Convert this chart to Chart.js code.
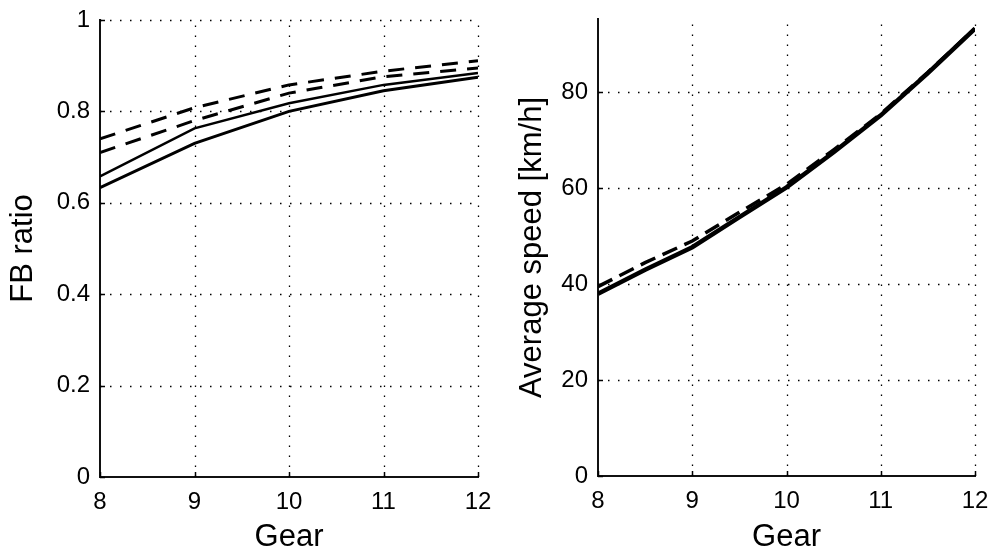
<!DOCTYPE html>
<html>
<head>
<meta charset="utf-8">
<script src="https://cdn.jsdelivr.net/npm/chart.js@4"></script>
<style>
  html, body { margin: 0; padding: 0; background: #fff; }
  body { width: 992px; height: 554px; position: relative; overflow: hidden; }
  .box { position: absolute; top: 0; width: 496px; height: 554px; }
  #b1 { left: 0; }
  #b2 { left: 496px; }
</style>
</head>
<body>
<div class="box" id="b1"><canvas id="c1"></canvas></div>
<div class="box" id="b2"><canvas id="c2"></canvas></div>
<script>
// ---- data ----
const gears = [8, 9, 10, 11, 12];
const fbDashedA = [0.740, 0.808, 0.858, 0.888, 0.911];
const fbDashedB = [0.710, 0.780, 0.840, 0.876, 0.895];
const fbSolidA  = [0.658, 0.763, 0.818, 0.858, 0.884];
const fbSolidB  = [0.633, 0.730, 0.800, 0.845, 0.875];

const speedGears  = [8, 8.5, 9, 9.5, 10, 10.5, 11, 11.5, 12];
const speedSolid  = [38.0, 43.0, 47.7, 54.0, 60.2, 67.5, 75.2, 84.0, 93.3];
const speedDashed = [39.5, 44.5, 49.0, 55.0, 60.8, 68.0, 75.5, 84.2, 93.3];

const xTicks = [8, 9, 10, 11, 12];
const fbTicks = [0, 0.2, 0.4, 0.6, 0.8, 1];
const speedTicks = [0, 20, 40, 60, 80];

const FONT = "'Liberation Sans', Arial, sans-serif";
const TICK_SIZE = 24;
const TITLE_SIZE = 31;

function pts(xs, ys) { return xs.map((x, i) => ({x: x, y: ys[i]})); }

function makeScales(yMin, yMax, yTickList, yTitle, yWidth, yTitlePad, xHeight) {
  return {
    x: {
      type: 'linear', min: 8, max: 12,
      afterBuildTicks: s => { s.ticks = xTicks.map(v => ({value: v})); },
      afterFit: s => { s.height = xHeight; s.paddingLeft = 0; s.paddingRight = 0; },
      grid: { display: false, drawTicks: false },
      border: { display: true, color: '#111', width: 2 },
      ticks: { color: '#000', padding: 11, maxRotation: 0, font: { family: FONT, size: TICK_SIZE }, callback: v => String(v) },
      title: { display: true, text: 'Gear', color: '#000', font: { family: FONT, size: TITLE_SIZE, lineHeight: 1 }, padding: { top: 0, bottom: 1 } }
    },
    y: {
      type: 'linear', min: yMin, max: yMax,
      afterBuildTicks: s => { s.ticks = yTickList.map(v => ({value: v})); },
      afterFit: s => { s.width = yWidth; s.paddingTop = 0; s.paddingBottom = 0; },
      grid: { display: false, drawTicks: false },
      border: { display: true, color: '#111', width: 2 },
      ticks: { color: '#000', padding: 10, font: { family: FONT, size: TICK_SIZE }, callback: v => String(v) },
      title: { display: true, text: yTitle, color: '#000', font: { family: FONT, size: TITLE_SIZE, lineHeight: 1 }, padding: { top: yTitlePad, bottom: 0 } }
    }
  };
}

const dottedGrid = {
  id: 'dottedGrid',
  beforeDatasetsDraw(chart) {
    const {ctx, chartArea: a, scales: {x, y}} = chart;
    ctx.save();
    ctx.strokeStyle = '#000';
    ctx.lineWidth = 1.3;
    ctx.setLineDash([1.5, 8.5]);
    x.ticks.forEach(t => {
      if (t.value === x.min) return;
      const px = Math.round(x.getPixelForValue(t.value)) + 0.5;
      ctx.beginPath(); ctx.moveTo(px, a.bottom); ctx.lineTo(px, a.top); ctx.stroke();
    });
    y.ticks.forEach(t => {
      if (t.value === y.min) return;
      const py = Math.round(y.getPixelForValue(t.value)) + 0.5;
      ctx.beginPath(); ctx.moveTo(a.left, py); ctx.lineTo(a.right, py); ctx.stroke();
    });
    ctx.setLineDash([]);
    ctx.lineWidth = 1.5;
    x.ticks.forEach(t => {
      const px = Math.round(x.getPixelForValue(t.value)) + 0.5;
      ctx.beginPath(); ctx.moveTo(px, a.bottom); ctx.lineTo(px, a.bottom - 5); ctx.stroke();
    });
    y.ticks.forEach(t => {
      const py = Math.round(y.getPixelForValue(t.value)) + 0.5;
      ctx.beginPath(); ctx.moveTo(a.left, py); ctx.lineTo(a.left + 5, py); ctx.stroke();
    });
    ctx.restore();
  }
};

const commonOpts = (scales, pad) => ({
  responsive: false,
  animation: false,
  devicePixelRatio: 1,
  layout: { padding: pad },
  plugins: { legend: { display: false }, tooltip: { enabled: false } },
  elements: { point: { radius: 0 }, line: { tension: 0 } },
  scales: scales
});

const c1 = document.getElementById('c1');
c1.width = 496; c1.height = 554;
new Chart(c1, {
  type: 'line',
  data: {
    datasets: [
      { data: pts(gears, fbDashedA), borderColor: '#000', borderWidth: 3, borderDash: [16, 11] },
      { data: pts(gears, fbDashedB), borderColor: '#000', borderWidth: 3, borderDash: [16, 11] },
      { data: pts(gears, fbSolidA), borderColor: '#000', borderWidth: 2.5 },
      { data: pts(gears, fbSolidB), borderColor: '#000', borderWidth: 3 }
    ]
  },
  options: commonOpts(makeScales(0, 1, fbTicks, 'FB ratio', 100, 8, 77), { top: 20, right: 18, left: 0, bottom: 0 }),
  plugins: [dottedGrid]
});

const c2 = document.getElementById('c2');
c2.width = 496; c2.height = 554;
new Chart(c2, {
  type: 'line',
  data: {
    datasets: [
      { data: pts(speedGears, speedDashed), borderColor: '#000', borderWidth: 3.5, borderDash: [16, 8] },
      { data: pts(speedGears, speedSolid), borderColor: '#000', borderWidth: 4.5 }
    ]
  },
  options: commonOpts(makeScales(0, 95.3, speedTicks, 'Average speed [km/h]', 102, 21, 78), { top: 19, right: 17, left: 0, bottom: 0 }),
  plugins: [dottedGrid]
});
</script>
</body>
</html>
